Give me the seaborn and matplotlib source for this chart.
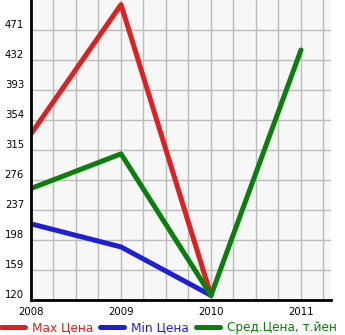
import numpy as np
import pandas as pd
import matplotlib
matplotlib.use("Agg")
import matplotlib.pyplot as plt
import seaborn as sns
from matplotlib.lines import Line2D

years = [2008, 2009, 2010, 2011]
max_price = [336, 504, 126, np.nan]
min_price = [219, 189, 126, np.nan]
avg_price = [265, 310, 126, 445]
series_names = ["Max Цена", "Min Цена", "Сред.Цена, т.йен"]
colors = ["#dd2020", "#1f1fd6", "#0b7f0b"]
yticks = [120, 159, 198, 237, 276, 315, 354, 393, 432, 471]

rows = []
for name, vals in zip(series_names, [max_price, min_price, avg_price]):
    for y, v in zip(years, vals):
        rows.append({"year": y, "value": v, "series": name})
df = pd.DataFrame(rows).dropna()

sns.set_style("white")
fig = plt.figure(figsize=(3.45, 3.35), dpi=100)
ax = fig.add_axes([31/345, 35/335, 300/345, 300/335])
ax.set_facecolor("#f7f7f7")

sns.lineplot(data=df, x="year", y="value", hue="series", hue_order=series_names,
             palette=colors, linewidth=3.6, legend=False, ax=ax,
             solid_capstyle="round", solid_joinstyle="round")

ax.set_xlim(2008, 2008 + 300/270*3)
ax.set_ylim(120, 120 + 390)
ax.set_xticks(np.arange(2008, 2011.5, 0.25))
ax.set_xticklabels([str(int(t)) if t == int(t) else "" for t in np.arange(2008, 2011.5, 0.25)])
ax.set_yticks(yticks)
ax.set_yticklabels([str(t) for t in yticks])
ax.grid(True, color="#bbbbbb", linewidth=1)
ax.set_axisbelow(True)
ax.set_xlabel("")
ax.set_ylabel("")
for s in ["top", "right"]:
    ax.spines[s].set_visible(False)
for s in ["left", "bottom"]:
    ax.spines[s].set_color("black")
    ax.spines[s].set_linewidth(2)
ax.tick_params(axis="both", labelsize=7.3, colors="black", length=3, width=1, direction="out", pad=2)
for lbl in ax.get_yticklabels():
    lbl.set_verticalalignment("bottom")

handles = [Line2D([0], [0], color=c, linewidth=3.6, solid_capstyle="round") for c in colors]
leg = fig.legend(handles, series_names, loc="lower left", bbox_to_anchor=(-0.012, -0.012),
                 ncol=3, frameon=False, fontsize=8.7, handlelength=2.0, handletextpad=0.55,
                 columnspacing=0.6, borderaxespad=0.0)
for t, c in zip(leg.get_texts(), colors):
    t.set_color(c)

fig.savefig("out.png", dpi=100)
